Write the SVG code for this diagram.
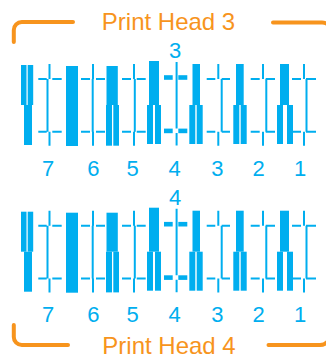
<svg xmlns="http://www.w3.org/2000/svg" xmlns:xlink="http://www.w3.org/1999/xlink" width="326" height="360" viewBox="0 0 326 360">
<style>
.bar{fill:#00AEEF}
.ln{stroke:#00AEEF;stroke-width:2;fill:none}
.br{stroke:#F7941D;stroke-width:4;fill:none;stroke-linecap:round}
.ttl{font-family:"Liberation Sans",Arial,sans-serif;font-size:24px;fill:#F7941D;text-anchor:middle}
.num{font-family:"Liberation Sans",Arial,sans-serif;font-size:22px;fill:#00AEEF;text-anchor:middle}
</style>
<defs>
<g id="pattern">
  <g id="col7">
    <rect class="bar" x="21" y="65" width="5.5" height="40"/>
    <rect class="bar" x="27.7" y="65" width="5.5" height="40"/>
    <rect class="bar" x="24" y="105" width="8" height="40"/>
  </g>
  <g id="col6"><rect class="bar" x="66" y="66" width="12" height="80"/></g>
  <g id="col5">
    <rect class="bar" x="106.5" y="66" width="11.3" height="39"/>
    <rect class="bar" x="106" y="105" width="6" height="40.7"/>
    <rect class="bar" x="113.3" y="105" width="5.7" height="40.7"/>
  </g>
  <g id="col4">
    <rect class="bar" x="149" y="61" width="10" height="44"/>
    <rect class="bar" x="147" y="105" width="6" height="39"/>
    <rect class="bar" x="155" y="105" width="6" height="39"/>
  </g>
  <g id="col3">
    <rect class="bar" x="192.5" y="64" width="7.5" height="41"/>
    <rect class="bar" x="189.3" y="105" width="6" height="39"/>
    <rect class="bar" x="196.7" y="105" width="6" height="39"/>
  </g>
  <g id="col2">
    <rect class="bar" x="236" y="64" width="7.7" height="41"/>
    <rect class="bar" x="233.3" y="105" width="6" height="39"/>
    <rect class="bar" x="240.7" y="105" width="6" height="39"/>
  </g>
  <g id="col1">
    <rect class="bar" x="280" y="64" width="9" height="41"/>
    <rect class="bar" x="277" y="105" width="6" height="39"/>
    <rect class="bar" x="287" y="105" width="6" height="39"/>
  </g>
  <g id="marks">
    <path class="ln" d="M49.5,64V79M38.3,79H46.7M52.3,79H61.7M47.5,79V131.7M38.3,131.7H46.7M52.3,131.7H61.7M49.5,131.7V145.7"/>
    <path class="ln" d="M93,64V79M81,79H90M96,79H105M92.7,79V131.7M81,131.7H90M96,131.7H105M93,131.7V145.7"/>
    <path class="ln" d="M134,64V79M122,79H131M136.7,79H145.7M134.8,79V131.7M122,131.7H131M136.7,131.7H145.7M134,131.7V145.7"/>
    <path class="ln" d="M176.6,62V128.5M176.6,133V145.5"/>
    <rect class="bar" x="164" y="75.2" width="8.7" height="4.6"/>
    <rect class="bar" x="178.3" y="75.2" width="9" height="4.6"/>
    <rect class="bar" x="164" y="128.6" width="8.7" height="4.6"/>
    <rect class="bar" x="178.3" y="128.6" width="9" height="4.6"/>
    <path class="ln" d="M218.3,64V79M206.7,79H215.3M221.7,79H230M221.7,79V131.7M206.7,131.7H215.3M221.7,131.7H230M218.3,131.7V145.7"/>
    <path class="ln" d="M263,64V79M250.7,79H259.7M265.7,79H275M266.3,79V131.7M250.7,131.7H259.7M265.7,131.7H275M263,131.7V145.7"/>
    <path class="ln" d="M304,64V79M292,79H301M306,79H316M306.5,79V131.7M292,131.7H301M306,131.7H316M304,131.7V145.7"/>
  </g>
  <g id="digits">
    <text class="num" x="48" y="175.5">7</text>
    <text class="num" x="93.3" y="175.5">6</text>
    <text class="num" x="132.7" y="175.5">5</text>
    <text class="num" x="174.7" y="175.5">4</text>
    <text class="num" x="217.3" y="175.5">3</text>
    <text class="num" x="258.7" y="175.5">2</text>
    <text class="num" x="300" y="175.5">1</text>
  </g>
</g>
</defs>
<g id="head3">
  <path class="br" d="M13.8,42V30A8,8 0 0 1 21.8,22H73"/>
  <path class="br" d="M273,22.5H322A10,10 0 0 1 332,32.5V50"/>
  <text class="ttl" x="168.5" y="29.5">Print Head 3</text>
  <text class="num" x="175" y="58">3</text>
  <use xlink:href="#pattern"/>
</g>
<g id="head4">
  <use xlink:href="#pattern" transform="translate(0,146.7)"/>
  <text class="num" x="175" y="204.7">4</text>
  <text class="ttl" x="169" y="353.5">Print Head 4</text>
  <path class="br" d="M13.8,325V337A8,8 0 0 0 21.8,345H68"/>
  <path class="br" d="M268.5,345H320A10,10 0 0 0 330,335V320"/>
</g>
</svg>
